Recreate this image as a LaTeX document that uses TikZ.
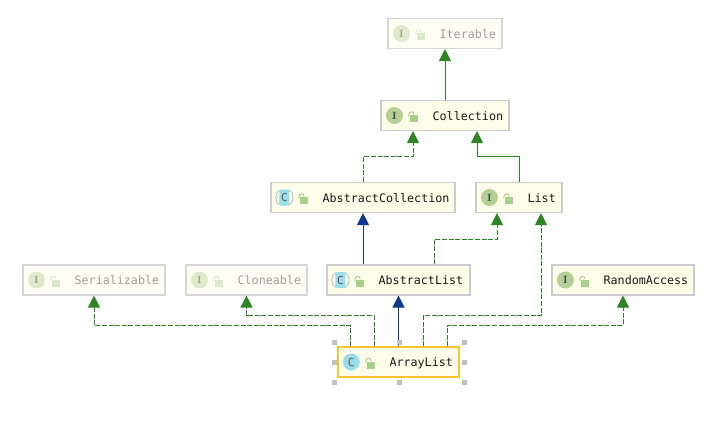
\documentclass[tikz,border=0pt]{standalone}
\usepackage{fontspec}
\setmonofont{DejaVu Sans Mono}
\usetikzlibrary{arrows.meta}
\definecolor{boxfill}{HTML}{FEFDE9}
\definecolor{boxline}{HTML}{CCCCCC}
\definecolor{implgreen}{HTML}{2E8425}
\definecolor{extblue}{HTML}{0B3A8E}
\definecolor{ifacegreen}{HTML}{B5CF96}
\definecolor{classblue}{HTML}{98DDE8}
\definecolor{lockgreen}{HTML}{A9CF8C}
\definecolor{mainline}{HTML}{FCC52F}
\tikzset{
  solidbox/.style={draw=boxline,fill=boxfill,line width=1.1pt,minimum height=30pt,inner sep=0pt},
  fadedbox/.style={solidbox,draw=boxline!80,fill=boxfill!45},
  mainbox/.style={solidbox,draw=mainline,line width=1.4pt},
  solidname/.style={anchor=west,inner sep=0pt,font=\ttfamily\fontsize{11.7}{12}\selectfont,text=black!90,text height=8.5pt,text depth=2pt},
  fadedname/.style={solidname,text=black!38},
  mainname/.style={solidname},
  impl/.style={implgreen,line width=1pt,dash pattern=on 5pt off 1.6pt,-{Triangle[width=12pt,length=12pt]}},
  inherit/.style={implgreen,line width=1pt,-{Triangle[width=12pt,length=12pt]}},
  extend/.style={extblue,line width=1pt,-{Triangle[width=12pt,length=12pt]}},
  handle/.style={fill=black!25,minimum size=5pt,inner sep=0pt},
  fadedicon/.style={opacity=0.42},
  solidicon/.style={},
  mainicon/.style={},
  pics/lock/.style={code={
    \fill[lockgreen] (2,-.5) rectangle (10,6.5);
    \draw[lockgreen,line width=1pt] (0.5,1) -- (0.5,-1) .. controls (0.5,-4.6) and (5.7,-4.6) .. (5.7,-1);
  }},
  pics/ifaceicon/.style={code={
    \fill[ifacegreen] (14,0) circle[radius=8.5];
    \node[text=black!65!ifacegreen,font=\rmfamily\bfseries\fontsize{10.5}{11}\selectfont] at (14,0) {I};
    \pic at (28,0) {lock};
  }},
  pics/classicon/.style={code={
    \fill[classblue] (14,0) circle[radius=8.5];
    \node[text=black!65,font=\ttfamily\fontsize{11}{11}\selectfont] at (14,0) {C};
    \pic at (28,0) {lock};
  }},
  pics/abstracticon/.style={code={
    \draw[black!22,line width=1pt] (9,-7.5) .. controls (4.3,-5) and (4.3,5) .. (9,7.5);
    \draw[black!22,line width=1pt] (19,-7.5) .. controls (23.7,-5) and (23.7,5) .. (19,7.5);
    \fill[classblue,rounded corners=1pt] (9,-8) rectangle (19,8);
    \node[text=black!65,font=\ttfamily\fontsize{11}{11}\selectfont] at (14,0) {C};
    \pic at (28,0) {lock};
  }},
}
% box, icon and name of one class: kind, icon, id, centre x, centre y, width, text
\newcommand{\classnode}[7]{
  \node[#1box,minimum width=#6] (#3) at (#4,#5) {};
  \pic[#1icon] at (#3.west) {#2};
  \node[#1name] (#3name) at ([xshift=52,yshift=-1.5]#3.west) {#7};
}
\begin{document}
\begin{tikzpicture}[x=1pt,y=-1pt]
\useasboundingbox (0,0) rectangle (714,439);
\classnode{faded}{ifaceicon}{iterable}{445}{33.5}{114}{Iterable}
\classnode{solid}{ifaceicon}{collection}{445}{115.5}{128}{Collection}
\classnode{solid}{abstracticon}{abstractcollection}{363}{197.5}{184}{AbstractCollection}
\classnode{solid}{ifaceicon}{list}{519}{197.5}{86}{List}
\classnode{faded}{ifaceicon}{serializable}{94}{280}{142}{Serializable}
\classnode{faded}{ifaceicon}{cloneable}{246.5}{280}{121}{Cloneable}
\classnode{solid}{abstracticon}{abstractlist}{398.5}{280}{143}{AbstractList}
\classnode{solid}{ifaceicon}{randomaccess}{623}{280}{142}{RandomAccess}
\classnode{main}{classicon}{arraylist}{398.5}{362}{121}{ArrayList}
\draw[inherit] (collection.north) -- (iterable.south);
\draw[impl] (abstractcollection.north) |- ++(25,-25) -| ([xshift=-32]collection.south);
\draw[inherit] (list.north) |- ++(-21,-25) -| ([xshift=32]collection.south);
\draw[extend] (abstractlist.north -| abstractcollection.south) -- (abstractcollection.south);
\draw[impl] ([xshift=35.5]abstractlist.north) |- ++(31,-25) -| ([xshift=-22]list.south);
\draw[extend] (arraylist.north) -- (abstractlist.south);
\draw[impl] ([xshift=24.5]arraylist.north) |- ++(59,-31) -| ([xshift=22]list.south);
\draw[impl] ([xshift=48.5]arraylist.north) |- ++(88,-21) -| (randomaccess.south);
\draw[impl] ([xshift=-24.5]arraylist.north) |- ++(-64,-31) -| (cloneable.south);
\draw[impl] ([xshift=-48.5]arraylist.north) |- ++(-128,-21) -| (serializable.south);
\foreach \hx/\hy in {334/342,399/342,464/342,334/362,464/362,334/382,399/382,464/382}
  \node[handle] (handle\hx\hy) at (\hx,\hy) {};
\end{tikzpicture}
\end{document}
